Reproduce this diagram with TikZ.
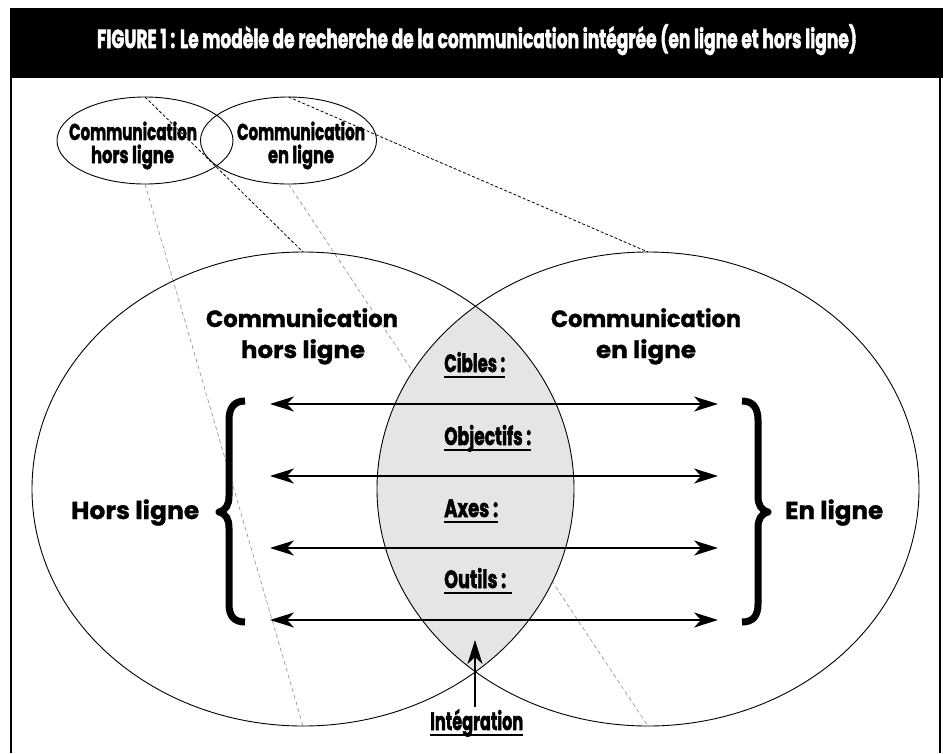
\documentclass[tikz,border=0pt]{standalone}
\usepackage{fontspec}
\usetikzlibrary{arrows.meta,shapes.geometric}
\newfontfamily\popb{Poppins}[UprightFont={* Bold}, FakeBold=1.2]
\newfontfamily\popc{Poppins}[UprightFont={* Bold}, FakeBold=2.2]
\newcommand{\fitw}[2]{\resizebox{#1}{\height}{#2}}
\begin{document}
\begin{tikzpicture}[x=1pt,y=-1pt,
  smallell/.style={draw, ellipse, minimum width=176pt, minimum height=87pt, inner sep=0pt, outer sep=0pt, line width=0.9pt},
  bigell/.style={ellipse, minimum width=542pt, minimum height=474pt, inner sep=0pt, outer sep=0pt},
  bdash/.style={dash pattern=on 3pt off 2pt, line width=0.8pt},
  gdash/.style={dash pattern=on 4pt off 3pt, line width=0.6pt, draw=black!45},
  lbl/.style={inner sep=0pt, font=\popb\fontsize{23.5}{23.5}\selectfont},
  lblbig/.style={inner sep=0pt, font=\popb\fontsize{24.5}{24.5}\selectfont},
  cond/.style={inner sep=0pt, font=\popc\fontsize{25}{25}\selectfont},
  condsmall/.style={inner sep=0pt, font=\popc\fontsize{23}{23}\selectfont},
  condtitle/.style={inner sep=0pt, font=\popc\fontsize{26}{26}\selectfont, text=white},
  dblarrow/.style={line width=2.2pt, {Stealth[length=24pt,width=15pt,inset=7pt]}-{Stealth[length=24pt,width=15pt,inset=7pt]}},
  uparrow/.style={line width=2.2pt, -{Stealth[length=24pt,width=15pt,inset=7pt]}},
  bracepath/.style={line width=7pt, line join=round},
  uline/.style={line width=1.5pt},
  frameline/.style={line width=1.2pt}]
\useasboundingbox (0,0) rectangle (945,753);
% frame and title bar
\fill[black] (10,8) rectangle (943,78);
\draw[frameline] (11,77) -- (11,753);
\draw[frameline] (940,77) -- (940,753);
\node[condtitle, anchor=base] (title) at (477,48) {\fitw{760pt}{FIGURE 1 : Le modèle de recherche de la communication intégrée (en ligne et hors ligne)}};
% ellipse nodes (outlines drawn later)
\node[bigell] (be1) at (303,489) {};
\node[bigell] (be2) at (648,489) {};
\node[smallell] (se1) at (145,140.5) {};
\node[smallell] (se2) at (288.5,140.5) {};
% gray projection lines
\draw[gdash] (se1.south) -- (be1.south);
\draw[gdash] (se2.south) -- (be2.south);
% lens
\begin{scope}
  \clip (303,489) ellipse [x radius=271pt, y radius=237pt];
  \fill[black!10] (648,489) ellipse [x radius=271pt, y radius=237pt];
\end{scope}
\draw[line width=0.9pt] (303,489) ellipse [x radius=271pt, y radius=237pt];
\draw[line width=0.9pt] (648,489) ellipse [x radius=271pt, y radius=237pt];
% black projection lines
\draw[bdash] (se1.north) -- (be1.north);
\draw[bdash] (se2.north) -- (be2.north);
% small ellipse labels
\node[condsmall, anchor=base] (s1a) at (133,140) {\fitw{128pt}{Communication}};
\node[condsmall, anchor=base] (s1b) at (132.5,163) {\fitw{83pt}{hors ligne}};
\node[condsmall, anchor=base] (s2a) at (301,140) {\fitw{128pt}{Communication}};
\node[condsmall, anchor=base] (s2b) at (301,163) {\fitw{66pt}{en ligne}};
% big labels
\node[lbl, anchor=base] (b1a) at (302,327) {\fitw{192pt}{Communication}};
\node[lbl, anchor=base] (b1b) at (303,358) {\fitw{124pt}{hors ligne}};
\node[lbl, anchor=base] (b2a) at (646,327) {\fitw{190pt}{Communication}};
\node[lbl, anchor=base] (b2b) at (646,358) {\fitw{100pt}{en ligne}};
\node[lblbig, anchor=base west] (hl) at (71,519) {\fitw{128pt}{Hors ligne}};
\node[lblbig, anchor=base west] (el) at (785,519) {\fitw{98pt}{En ligne}};
% centre labels
\node[cond, anchor=base west] (cib) at (444,372) {\fitw{61pt}{Cibles :}};
\node[cond, anchor=base west] (obj) at (444,445) {\fitw{87pt}{Objectifs :}};
\node[cond, anchor=base west] (axe) at (444,517) {\fitw{54pt}{Axes :}};
\node[cond, anchor=base west] (out) at (444,588) {\fitw{62pt}{Outils :}};
\node[cond, anchor=base west] (int) at (430,730) {\fitw{93pt}{Intégration}};
\draw[uline] ([yshift=-5pt]cib.base west) -- ([yshift=-5pt]cib.base east);
\draw[uline] ([yshift=-5pt]obj.base west) -- ([yshift=-5pt]obj.base east);
\draw[uline] ([yshift=-5pt]axe.base west) -- ([yshift=-5pt]axe.base east);
\draw[uline] ([yshift=-5pt]out.base west) -- ([yshift=-5pt,xshift=6pt]out.base east);
\draw[uline] ([yshift=-5pt]int.base west) -- ([yshift=-5pt]int.base east);
% arrows
\coordinate (l1) at (270,404); \coordinate (r1) at (718,404);
\coordinate (l2) at (270,476); \coordinate (r2) at (718,476);
\coordinate (l3) at (270,548); \coordinate (r3) at (718,548);
\coordinate (l4) at (270,620); \coordinate (r4) at (718,620);
\draw[dblarrow] (l1) -- (r1);
\draw[dblarrow] (l2) -- (r2);
\draw[dblarrow] (l3) -- (r3);
\draw[dblarrow] (l4) -- (r4);
\coordinate (ib) at (475,707); \coordinate (it) at (475,640);
\draw[uparrow] (ib) -- (it);
% braces
\draw[bracepath] (245,401) .. controls (234,401) and (229,408) .. (229,420) -- (229,496)
   .. controls (229,505) and (226,510) .. (219,512) .. controls (226,514) and (229,519) .. (229,528)
   -- (229,604) .. controls (229,616) and (234,622) .. (245,622);
\draw[bracepath] (742,401) .. controls (753,401) and (758,408) .. (758,420) -- (758,496)
   .. controls (758,505) and (761,510) .. (768,512) .. controls (761,514) and (758,519) .. (758,528)
   -- (758,604) .. controls (758,616) and (753,622) .. (742,622);
\end{tikzpicture}
\end{document}
